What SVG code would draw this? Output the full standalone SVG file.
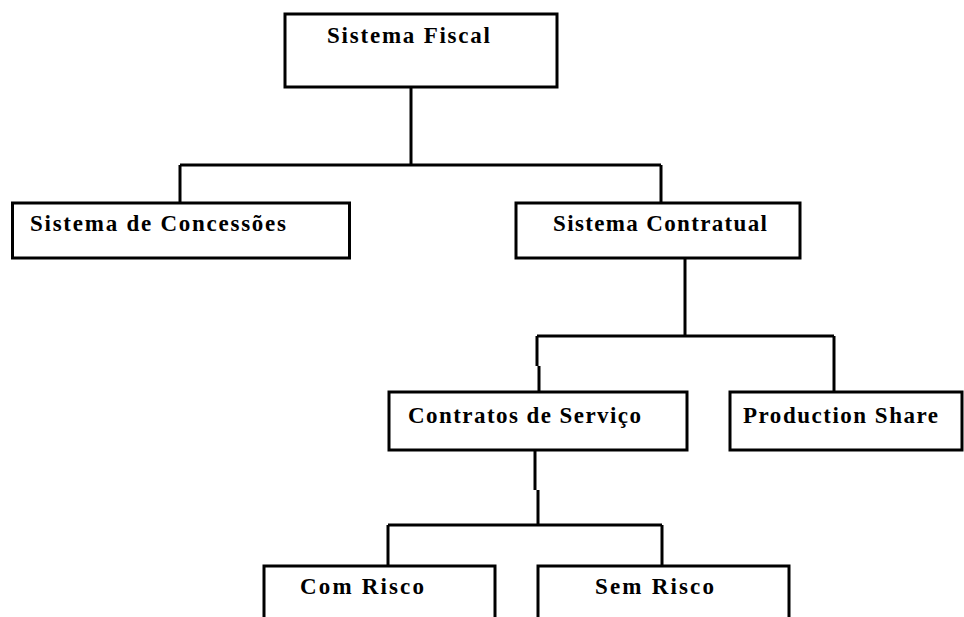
<svg xmlns="http://www.w3.org/2000/svg" width="964" height="617" viewBox="0 0 964 617">
<style>
.box{fill:#fff;stroke:#000;stroke-width:3}
.lbl{font-family:"Liberation Serif","Times New Roman",serif;font-weight:bold;font-size:23px;fill:#000}
.conn path{fill:none;stroke:#000;stroke-width:3}
</style>
<rect width="964" height="617" fill="#fff"/>
<g class="conn">
<path d="M411,87V165"/>
<path d="M180,165H661"/>
<path d="M180,165V203"/>
<path d="M661,165V203"/>
<path d="M685,258V336"/>
<path d="M537,336H834"/>
<path d="M537,336V366"/>
<path d="M539,366V392"/>
<path d="M834,336V392"/>
<path d="M535,450V490"/>
<path d="M538,490V525"/>
<path d="M388,525H662"/>
<path d="M388,525V566"/>
<path d="M662,525V566"/>
</g>
<g id="sistema-fiscal">
<rect class="box" x="285" y="14" width="272" height="73"/>
<text class="lbl" x="327" y="43" textLength="163" lengthAdjust="spacing">Sistema Fiscal</text>
</g>
<g id="sistema-concessoes">
<rect class="box" x="12.5" y="203" width="337" height="55"/>
<text class="lbl" x="30" y="231" textLength="256" lengthAdjust="spacing">Sistema de Concessões</text>
</g>
<g id="sistema-contratual">
<rect class="box" x="516" y="203" width="284" height="55"/>
<text class="lbl" x="553" y="231" textLength="214" lengthAdjust="spacing">Sistema Contratual</text>
</g>
<g id="contratos-servico">
<rect class="box" x="389" y="392" width="298" height="58"/>
<text class="lbl" x="408" y="423" textLength="233" lengthAdjust="spacing">Contratos de Serviço</text>
</g>
<g id="production-share">
<rect class="box" x="730" y="392" width="232" height="58"/>
<text class="lbl" x="743" y="423" textLength="195" lengthAdjust="spacing">Production Share</text>
</g>
<g id="com-risco">
<rect class="box" x="264" y="566" width="231" height="70"/>
<text class="lbl" x="300" y="594" textLength="124" lengthAdjust="spacing">Com Risco</text>
</g>
<g id="sem-risco">
<rect class="box" x="538" y="566" width="251" height="70"/>
<text class="lbl" x="595" y="594" textLength="119" lengthAdjust="spacing">Sem Risco</text>
</g>
</svg>
